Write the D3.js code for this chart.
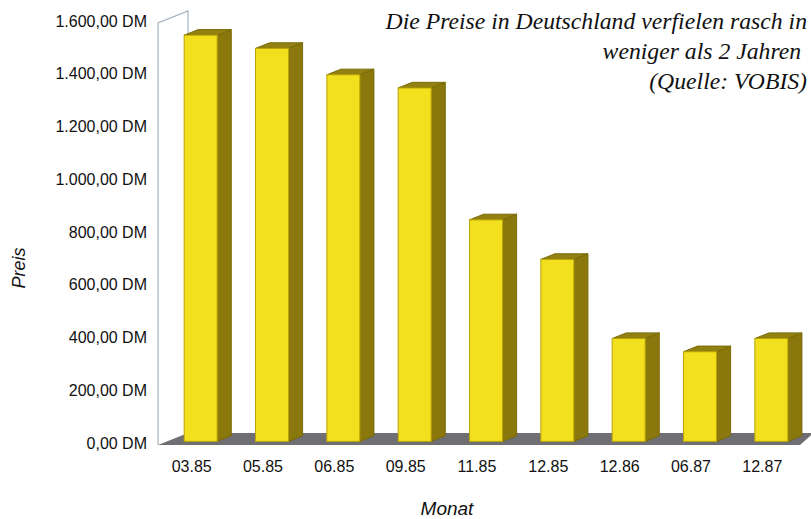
<!DOCTYPE html>
<html>
<head>
<meta charset="utf-8">
<script src="https://cdn.jsdelivr.net/npm/d3@7/dist/d3.min.js"></script>
<style>
  html, body { margin: 0; padding: 0; background: #ffffff; }
  svg { display: block; }
</style>
</head>
<body>
<svg id="chart" width="811" height="519"></svg>
<script>
// Monthly prices (DM)
const months = ["03.85", "05.85", "06.85", "09.85", "11.85", "12.85", "12.86", "06.87", "12.87"];
const prices = [1540, 1490, 1390, 1340, 840, 690, 390, 340, 390];
const yTicks = [0, 200, 400, 600, 800, 1000, 1200, 1400, 1600];
const titleLines = ["Die Preise in Deutschland verfielen rasch in", "weniger als 2 Jahren ", "(Quelle: VOBIS)"];

const svg = d3.select("#chart");

// Front plane scales
const x = d3.scaleBand().domain(months).range([156, 798]).padding(0);
const y = d3.scaleLinear().domain([0, 1600]).range([445, 23]);

// Oblique depth of the floor/wall and of the bars
const depth = { dx: 30, dy: -12 };
const barFront = 0.3, barBack = 0.77;
const faceW = 33;

const fmt = v => d3.format(",.2f")(v).replace(/,/g, "#").replace(".", ",").replace(/#/g, ".") + " DM";

// Left side wall
const x0 = x.range()[0] + 2;
svg.append("path")
  .attr("d", `M${x0},${y(0)} L${x0},${y(1600)} L${x0 + depth.dx},${y(1600) + depth.dy} L${x0 + depth.dx},${y(0) + depth.dy}`)
  .attr("fill", "#ffffff")
  .attr("stroke", "#a7b2bf")
  .attr("stroke-width", 1.2);

// Floor
const x1 = x.range()[1];
svg.append("path")
  .attr("d", `M${x0},${y(0)} L${x1 + 2},${y(0)} L${x1 + 2 + depth.dx * 0.45},${y(0) + depth.dy} L${x0 + depth.dx},${y(0) + depth.dy} Z`)
  .attr("fill", "#6f6f73");

// Bars
const bars = svg.append("g");
months.forEach((m, i) => {
  const cx = x(m) + x.bandwidth() / 2;
  const fx = cx + depth.dx * barFront - 16.5;
  const fdy = depth.dy * barFront;
  const ddx = depth.dx * (barBack - barFront);
  const ddy = depth.dy * (barBack - barFront);
  const yb = y(0) + fdy;
  const yt = y(prices[i]) + fdy;
  const g = bars.append("g");
  // side face
  g.append("path")
    .attr("d", `M${fx + faceW},${yb} L${fx + faceW},${yt} L${fx + faceW + ddx},${yt + ddy} L${fx + faceW + ddx},${yb + ddy} Z`)
    .attr("fill", "#8a780c").attr("stroke", "#7a6a08").attr("stroke-width", 1).attr("stroke-linejoin", "round");
  // top face
  g.append("path")
    .attr("d", `M${fx},${yt} L${fx + ddx},${yt + ddy} L${fx + faceW + ddx},${yt + ddy} L${fx + faceW},${yt} Z`)
    .attr("fill", "#928011").attr("stroke", "#7a6a08").attr("stroke-width", 1).attr("stroke-linejoin", "round");
  // front face
  g.append("rect")
    .attr("x", fx).attr("y", yt).attr("width", faceW).attr("height", yb - yt)
    .attr("fill", "#f2df1e").attr("stroke", "#b9a406").attr("stroke-width", 1);
});

// Y tick labels
svg.append("g").selectAll("text").data(yTicks).join("text")
  .attr("x", 147).attr("y", d => y(d) - 2).attr("dy", "0.35em")
  .attr("text-anchor", "end")
  .attr("font-family", "Liberation Sans, Arial, sans-serif").attr("font-size", 16)
  .attr("fill", "#111111")
  .text(fmt);

// X category labels
svg.append("g").selectAll("text").data(months).join("text")
  .attr("x", d => x(d) + x.bandwidth() / 2).attr("y", 466).attr("dy", "0.35em")
  .attr("text-anchor", "middle")
  .attr("font-family", "Liberation Sans, Arial, sans-serif").attr("font-size", 16)
  .attr("fill", "#111111")
  .text(d => d);

// Axis titles
svg.append("text")
  .attr("x", 447).attr("y", 508).attr("dy", "0.35em").attr("text-anchor", "middle")
  .attr("font-family", "Liberation Sans, Arial, sans-serif").attr("font-size", 19)
  .attr("font-style", "italic").attr("fill", "#111111").text("Monat");
svg.append("text")
  .attr("transform", "translate(19,268) rotate(-90)").attr("dy", "0.35em").attr("text-anchor", "middle")
  .attr("font-family", "Liberation Sans, Arial, sans-serif").attr("font-size", 18)
  .attr("font-style", "italic").attr("fill", "#111111").text("Preis");

// Title block
svg.append("g").selectAll("text").data(titleLines).join("text")
  .attr("x", 807).attr("y", (d, i) => 29 + i * 30)
  .attr("text-anchor", "end")
  .attr("font-family", "Liberation Serif, Times New Roman, serif").attr("font-size", 23.7)
  .attr("font-style", "italic").attr("fill", "#111111")
  .style("white-space", "pre")
  .text(d => d);
</script>
</body>
</html>
